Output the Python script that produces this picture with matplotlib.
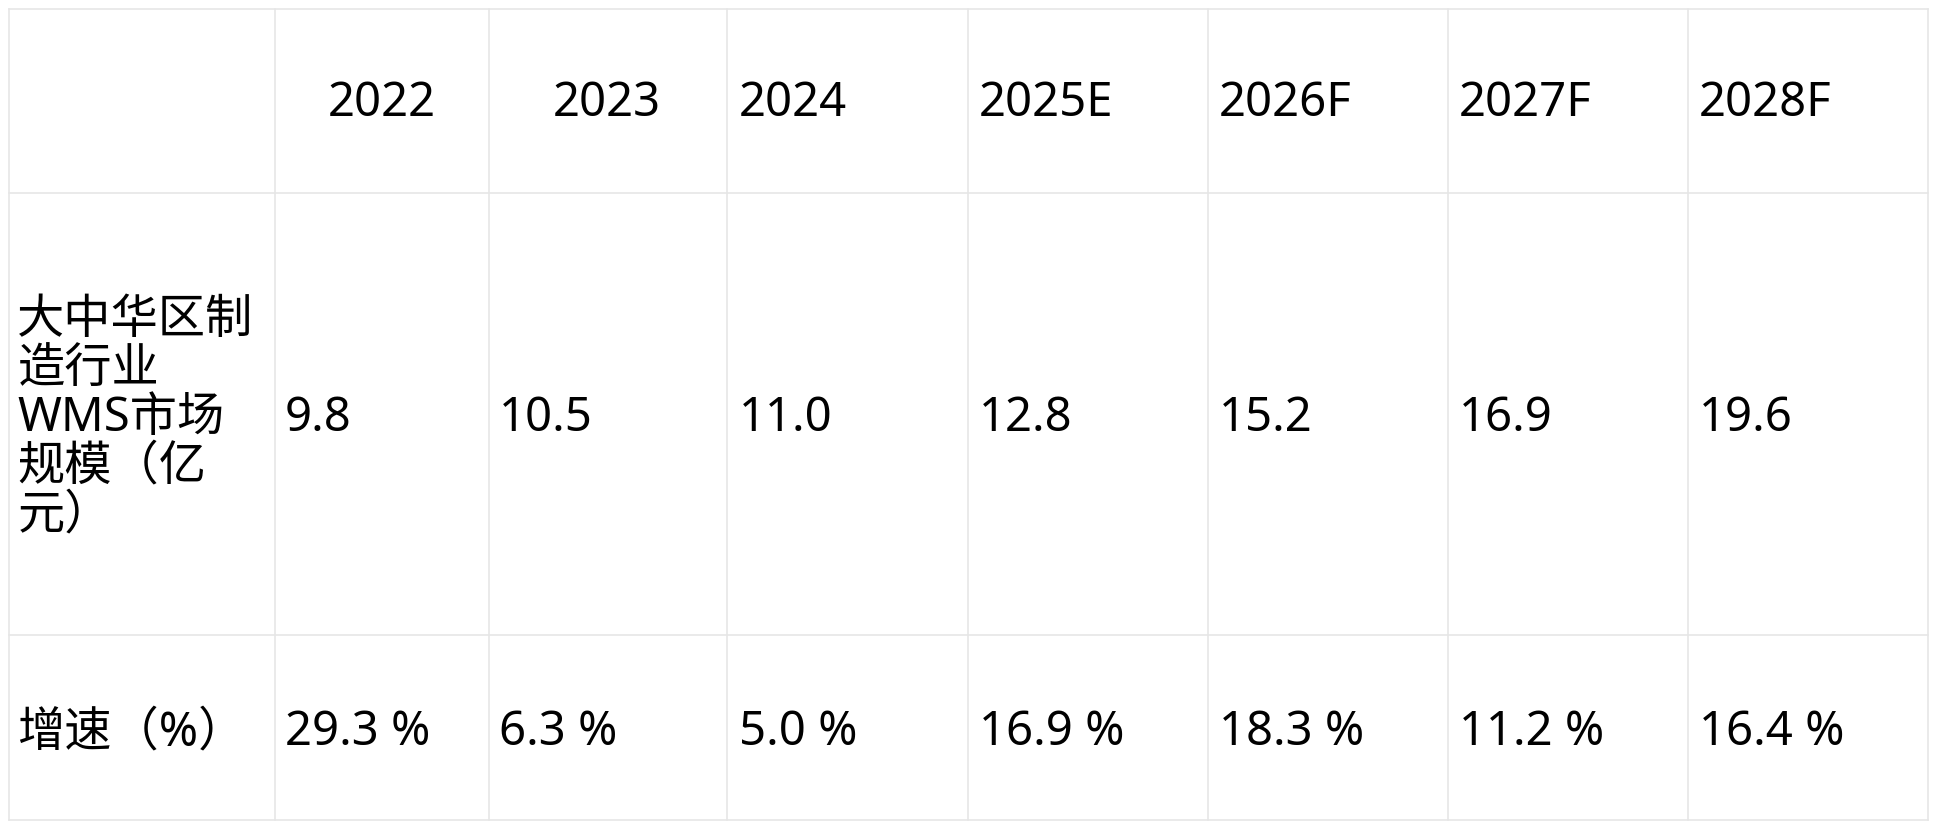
import matplotlib
matplotlib.use("Agg")
import matplotlib.pyplot as plt

plt.rcParams['font.family'] = ['Noto Sans', 'Noto Sans CJK SC', 'DejaVu Sans']

years = ["2022", "2023", "2024", "2025E", "2026F", "2027F", "2028F"]
row_labels = ["大中华区制\n造行业\nWMS市场\n规模（亿\n元）", "增速（%）"]
market_size = ["9.8", "10.5", "11.0", "12.8", "15.2", "16.9", "19.6"]
growth = ["29.3 %", "6.3 %", "5.0 %", "16.9 %", "18.3 %", "11.2 %", "16.4 %"]

W, H = 1568, 668
col_edges = [7, 222, 395, 588, 782, 976, 1170, 1364, 1558]
row_edges = [7, 156, 513, 662]
head_x = [265, 447, 597, 791, 985, 1179, 1373]
val_x = [230, 403, 597, 791, 985, 1179, 1373]

fig = plt.figure(figsize=(19.40, 8.27), dpi=100)
ax = fig.add_axes([0, 0, 1, 1])
ax.set_xlim(0, W); ax.set_ylim(H, 0); ax.axis('off')

lc = '#e6e6e6'
for x in col_edges:
    ax.plot([x, x], [row_edges[0], row_edges[-1]], color=lc, lw=1.2)
for y in row_edges:
    ax.plot([col_edges[0], col_edges[-1]], [y, y], color=lc, lw=1.2)

fs = 34
for x, t in zip(head_x, years):
    ax.text(x, 84, t, fontsize=fs, va='center', ha='left', color='black')
ax.text(14, 338, row_labels[0], fontsize=fs, va='center', ha='left', linespacing=1.05)
ax.text(14, 592, row_labels[1], fontsize=fs, va='center', ha='left')
for x, t in zip(val_x, market_size):
    ax.text(x, 338, t, fontsize=fs, va='center', ha='left')
for x, t in zip(val_x, growth):
    ax.text(x, 592, t, fontsize=fs, va='center', ha='left')

fig.savefig("out.png", dpi=100, facecolor='white')
